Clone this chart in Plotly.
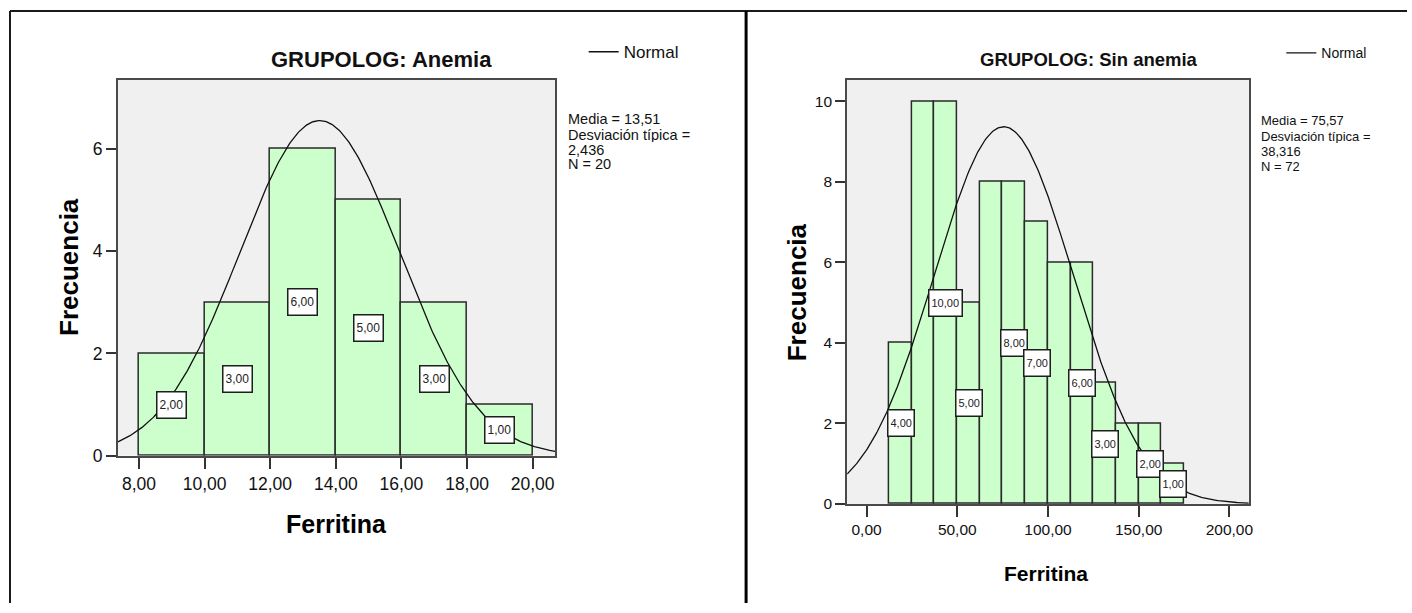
import numpy as np
import plotly.graph_objects as go

W, H = 1412, 613

# ---------------- data ----------------
# Panel 1: GRUPOLOG = Anemia
anemia_bin_starts = [8, 10, 12, 14, 16, 18]
anemia_bin_width = 2
anemia_counts = [2, 3, 6, 5, 3, 1]
anemia_mean = 13.51
anemia_sd = 2.436
anemia_n = 20
anemia_xticks = [8, 10, 12, 14, 16, 18, 20]
anemia_yticks = [0, 2, 4, 6]

# Panel 2: GRUPOLOG = Sin anemia
sin_bin_starts = [12.5, 25, 37.5, 50, 62.5, 75, 87.5, 100, 112.5, 125, 137.5, 150, 162.5]
sin_bin_width = 12.5
sin_counts = [4, 10, 10, 5, 8, 8, 7, 6, 6, 3, 2, 2, 1]
sin_label_shown = [True, False, True, True, False, True, True, False, True, True, False, True, True]
sin_mean = 75.57
sin_sd = 38.316
sin_n = 72
sin_xticks = [0, 50, 100, 150, 200]
sin_yticks = [0, 2, 4, 6, 8, 10]

titles = ["GRUPOLOG: Anemia", "GRUPOLOG: Sin anemia"]
x_title = "Ferritina"
y_title = "Frecuencia"
legend_name = "Normal"


def es(v, d=2):
    return f"{v:.{d}f}".replace(".", ",")


FONT = "Liberation Sans, Arial, Helvetica, sans-serif"
BAR_FILL = "#CCFFCC"
BAR_LINE = "#2a2a2a"
PLOT_BG = "#F0F0F0"
AXIS_LINE = "#4a4a4a"

# the photographed page comes out slightly compressed vertically; compensate
SY = 1 / 0.98
SX = 1 / 0.997

fig = go.Figure()


def px(xp):
    return min(1.0, xp * SX / W)


def py(yp):
    return max(0.0, 1 - yp * SY / H)


panels = [
    dict(starts=anemia_bin_starts, bw=anemia_bin_width, counts=anemia_counts,
         shown=[True] * len(anemia_counts), mean=anemia_mean, sd=anemia_sd, n=anemia_n,
         xticks=anemia_xticks, yticks=anemia_yticks,
         xdom=(118, 555.6), ydom=(79.4, 454), xr=(7.36, 20.69), yr=(0, 7.35),
         tickfont=17.5, labfont=12, xa="x", ya="y", legend="legend",
         title=titles[0], title_pos=(382, 59), title_size=22,
         xt_pos=(337, 522), xt_size=25, yt_pos=(69, 266), yt_size=26,
         stats_x=566, stats_y=[119, 134, 149, 163.5], stats_size=14.5,
         leg_x=584, leg_y=52, leg_size=17, sd_dec=3),
    dict(starts=sin_bin_starts, bw=sin_bin_width, counts=sin_counts,
         shown=sin_label_shown, mean=sin_mean, sd=sin_sd, n=sin_n,
         xticks=sin_xticks, yticks=sin_yticks,
         xdom=(847.6, 1249.5), ydom=(79.4, 502), xr=(-10.7, 210.7), yr=(0, 10.54),
         tickfont=15.5, labfont=11, xa="x2", ya="y2", legend="legend2",
         title=titles[1], title_pos=(1089.5, 59), title_size=18.5,
         xt_pos=(1047, 571.5), xt_size=21, yt_pos=(797.6, 291), yt_size=26,
         stats_x=1260, stats_y=[120, 135.5, 150.5, 165], stats_size=13,
         leg_x=1282, leg_y=53, leg_size=14, sd_dec=3),
]

annotations = []
layout_axes = {}

for i, p in enumerate(panels):
    centers = [s + p["bw"] / 2 for s in p["starts"]]
    fig.add_trace(go.Bar(
        x=centers, y=p["counts"], width=[p["bw"]] * len(centers),
        marker=dict(color=BAR_FILL, line=dict(color=BAR_LINE, width=1.5)),
        xaxis=p["xa"], yaxis=p["ya"], showlegend=False, hoverinfo="x+y",
    ))
    # normal curve fitted from mean / sd / N
    xs = np.linspace(p["xr"][0], p["xr"][1], 400)
    ys = p["n"] * p["bw"] * np.exp(-0.5 * ((xs - p["mean"]) / p["sd"]) ** 2) / (p["sd"] * np.sqrt(2 * np.pi))
    fig.add_trace(go.Scatter(
        x=xs, y=ys, mode="lines", line=dict(color="#111111", width=1.3),
        name=legend_name, xaxis=p["xa"], yaxis=p["ya"], showlegend=True,
        legend=p["legend"],
    ))
    # value labels
    for c, v, show in zip(centers, p["counts"], p["shown"]):
        if not show:
            continue
        annotations.append(dict(
            x=c, y=v / 2, xref=p["xa"], yref=p["ya"], text=es(v), showarrow=False,
            font=dict(family=FONT, size=p["labfont"], color="#222"),
            bgcolor="white", bordercolor="#1e1e1e", borderwidth=1.5, borderpad=2,
            height=21,
        ))
    # titles
    annotations.append(dict(
        x=px(p["title_pos"][0]), y=py(p["title_pos"][1]), xref="paper", yref="paper",
        text=p["title"], showarrow=False, xanchor="center", yanchor="middle",
        font=dict(family=FONT, size=p["title_size"], color="#111", weight="bold"),
    ))
    annotations.append(dict(
        x=px(p["xt_pos"][0]), y=py(p["xt_pos"][1]), xref="paper", yref="paper",
        text=x_title, showarrow=False, xanchor="center", yanchor="middle",
        font=dict(family=FONT, size=p["xt_size"], color="#000", weight="bold"),
    ))
    annotations.append(dict(
        x=px(p["yt_pos"][0]), y=py(p["yt_pos"][1]), xref="paper", yref="paper",
        text=y_title, showarrow=False, xanchor="center", yanchor="middle", textangle=-90,
        font=dict(family=FONT, size=p["yt_size"], color="#000", weight="bold"),
    ))
    stats_lines = [f"Media = {es(p['mean'])}", "Desviación típica =",
                   es(p["sd"], p["sd_dec"]), f"N = {p['n']}"]
    for txt, yy in zip(stats_lines, p["stats_y"]):
        annotations.append(dict(
            x=px(p["stats_x"]), y=py(yy), xref="paper", yref="paper", text=txt,
            showarrow=False, xanchor="left", yanchor="middle", height=14,
            font=dict(family=FONT, size=p["stats_size"], color="#111"),
        ))
    sfx = "" if i == 0 else "2"
    layout_axes["xaxis" + sfx] = dict(
        domain=[px(p["xdom"][0]), px(p["xdom"][1])], range=list(p["xr"]),
        anchor="y" + sfx, tickvals=p["xticks"], ticktext=[es(t) for t in p["xticks"]],
        ticks="outside", ticklen=11, tickwidth=1.5, tickcolor="#333",
        showline=True, linecolor=AXIS_LINE, linewidth=2, mirror=True,
        showgrid=False, zeroline=False,
        tickfont=dict(family=FONT, size=p["tickfont"], color="#111"),
    )
    layout_axes["yaxis" + sfx] = dict(
        domain=[py(p["ydom"][1]), py(p["ydom"][0])], range=list(p["yr"]),
        anchor="x" + sfx, tickvals=p["yticks"], ticktext=[str(t) for t in p["yticks"]],
        ticks="outside", ticklen=10, tickwidth=1.5, tickcolor="#333",
        showline=True, linecolor=AXIS_LINE, linewidth=2, mirror=True,
        showgrid=False, zeroline=False,
        tickfont=dict(family=FONT, size=p["tickfont"], color="#111"),
    )
    layout_axes["legend" + sfx] = dict(
        x=px(p["leg_x"]), y=py(p["leg_y"]), xanchor="left", yanchor="middle",
        bgcolor="rgba(0,0,0,0)", borderwidth=0,
        font=dict(family=FONT, size=p["leg_size"], color="#111"),
    )

# table frame lines around the two panels
shapes = [
    dict(type="line", xref="paper", yref="paper", x0=px(10), x1=1, y0=py(11), y1=py(11),
         line=dict(color="#1a1a1a", width=2)),
    dict(type="line", xref="paper", yref="paper", x0=px(10), x1=px(10), y0=py(11), y1=0,
         line=dict(color="#1a1a1a", width=2)),
    dict(type="line", xref="paper", yref="paper", x0=px(746.5), x1=px(746.5), y0=py(11), y1=0,
         line=dict(color="#000", width=3)),
]

fig.update_layout(
    width=W, height=H, autosize=False,
    margin=dict(l=0, r=0, t=0, b=0),
    paper_bgcolor="white", plot_bgcolor=PLOT_BG,
    bargap=0, barmode="overlay",
    annotations=annotations, shapes=shapes,
    font=dict(family=FONT),
    **layout_axes,
)

fig.write_html(
    "out.html",
    config={"displayModeBar": False},
    post_script=(
        "document.documentElement.style.margin='0';"
        "document.documentElement.style.overflow='hidden';"
        "document.body.style.margin='0';"
        "document.body.style.overflow='hidden';"
        "document.body.style.height='613px';"
    ),
)
